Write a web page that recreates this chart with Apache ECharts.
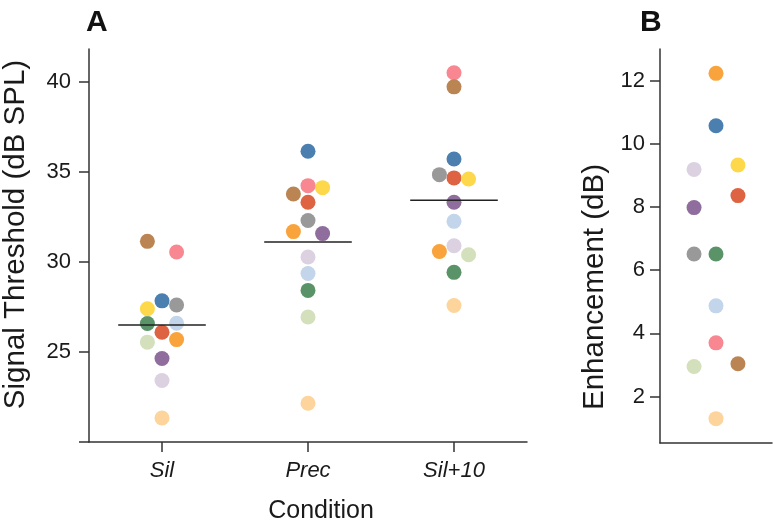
<!DOCTYPE html>
<html>
<head>
<meta charset="utf-8">
<script src="https://cdn.jsdelivr.net/npm/echarts@6/dist/echarts.min.js"></script>
<style>html,body{margin:0;padding:0;background:#fff;}#c{width:773px;height:526px;}</style>
</head>
<body>
<div id="c"></div>
<script>
// Subjects (colour per listener)
const subjectColors = ['#4a7fb0','#f9a33c','#dd6342','#5a9367','#fcd84a','#8f6d9c','#f88791','#bb8553','#999999','#c3d5ea','#d3e0bb','#dcd1e1','#fdd49b'];
// Panel A conditions
const conditions = ['Sil','Prec','Sil+10'];
const silValues    = [27.83,25.68,26.09,26.57,27.39,24.63,30.54,31.13,27.60,26.59,25.54,23.41,21.33];
const precValues   = [36.13,31.67,33.30,28.41,34.11,31.56,34.22,33.76,32.29,29.35,26.93,30.26,22.15];
const sil10Values  = [35.70,30.57,34.65,29.41,34.59,33.30,40.48,39.70,34.83,32.24,30.39,30.89,27.57];
// beeswarm column (jitter slot) of each dot
const silSlots   = [0, 1, 0,-1,-1, 0, 1,-1, 1, 1,-1, 0, 0];
const precSlots  = [0,-1, 0, 0, 1, 1, 0,-1, 0, 0, 0, 0, 0];
const sil10Slots = [0,-1, 0, 0, 1, 0, 0, 0,-1, 0, 1, 0, 0];
// Panel B enhancement
const enhValues = [10.57,12.23,8.36,6.51,9.33,7.98,3.70,3.04,6.51,4.87,2.95,9.19,1.30];
const enhSlots  = [0, 0, 1, 0, 1,-1, 0, 1,-1, 0,-1,-1, 0];
// Tick labels
const yTicksA = [25,30,35,40];
const yTicksB = [2,4,6,8,10,12];

const FONT = 'Liberation Sans';
const TXT = '#1a1a1a';
const AX = '#333';
const slotStep = 0.1;
const meanHalf = 0.3;

const condValues = [silValues, precValues, sil10Values];
const condSlots = [silSlots, precSlots, sil10Slots];

const scatterA = [];
condValues.forEach((vals, ci) => {
  vals.forEach((v, si) => {
    scatterA.push({ value: [ci + 1 + condSlots[ci][si] * slotStep, v], itemStyle: { color: subjectColors[si], opacity: 1 } });
  });
});
const scatterB = enhValues.map((v, si) => ({ value: [enhSlots[si], v], itemStyle: { color: subjectColors[si], opacity: 1 } }));

const meanSeries = condValues.map((vals, ci) => {
  const m = vals.reduce((a, b) => a + b, 0) / vals.length;
  return {
    type: 'line', xAxisIndex: 0, yAxisIndex: 0, symbol: 'none', silent: true, z: 5,
    lineStyle: { color: '#222', width: 1.5 },
    data: [[ci + 1 - meanHalf, m], [ci + 1 + meanHalf, m]]
  };
});

const chart = echarts.init(document.getElementById('c'), null, { renderer: 'canvas' });
chart.setOption({
  animation: false,
  backgroundColor: '#fff',
  textStyle: { fontFamily: FONT },
  title: [
    { text: 'A', left: 81, top: 3, textStyle: { fontFamily: FONT, fontSize: 30, fontWeight: 'bold', color: '#111' } },
    { text: 'B', left: 635, top: 3, textStyle: { fontFamily: FONT, fontSize: 30, fontWeight: 'bold', color: '#111' } }
  ],
  grid: [
    { left: 89, top: 49, width: 438, height: 393, containLabel: false, outerBoundsMode: 'none' },
    { left: 660, top: 49, width: 112, height: 394, containLabel: false, outerBoundsMode: 'none' }
  ],
  xAxis: [
    {
      gridIndex: 0, type: 'value', min: 0.5, max: 3.5,
      name: 'Condition', nameLocation: 'middle', nameGap: 57,
      nameTextStyle: { fontFamily: FONT, fontSize: 25, color: TXT, padding: [0, 0, 0, 26] },
      axisLine: { show: true, onZero: false, lineStyle: { color: AX, width: 1.5 } },
      axisTick: { show: true, length: 10, customValues: [1, 2, 3], lineStyle: { color: AX, width: 1.5 } },
      axisLabel: { customValues: [1, 2, 3], formatter: v => conditions[Math.round(v) - 1] || '', fontFamily: FONT, fontSize: 22, fontStyle: 'italic', color: TXT, margin: 18 },
      splitLine: { show: false }
    },
    {
      gridIndex: 1, type: 'value', min: -2.55, max: 2.55,
      axisLine: { show: true, onZero: false, lineStyle: { color: AX, width: 1.5 } },
      axisTick: { show: false }, axisLabel: { show: false }, splitLine: { show: false }
    }
  ],
  yAxis: [
    {
      gridIndex: 0, type: 'value', min: 20, max: 41.8, interval: 5,
      name: 'Signal Threshold (dB SPL)', nameLocation: 'middle', nameGap: 58,
      nameTextStyle: { fontFamily: FONT, fontSize: 29.5, color: TXT, padding: [0, 0, 0, 22] },
      axisLine: { show: true, onZero: false, lineStyle: { color: AX, width: 1.5 } },
      axisTick: { show: true, length: 10, customValues: [20, 25, 30, 35, 40], lineStyle: { color: AX, width: 1.5 } },
      axisLabel: { customValues: yTicksA, fontFamily: FONT, fontSize: 22, color: TXT, margin: 18 },
      splitLine: { show: false }
    },
    {
      gridIndex: 1, type: 'value', min: 0.53, max: 13, interval: 2,
      name: 'Enhancement (dB)', nameLocation: 'middle', nameGap: 50,
      nameTextStyle: { fontFamily: FONT, fontSize: 29.5, color: TXT, padding: [0, 82, 0, 0] },
      axisLine: { show: true, onZero: false, lineStyle: { color: AX, width: 1.5 } },
      axisTick: { show: true, length: 10, customValues: yTicksB, lineStyle: { color: AX, width: 1.5 } },
      axisLabel: { customValues: yTicksB, fontFamily: FONT, fontSize: 22, color: TXT, margin: 15 },
      splitLine: { show: false }
    }
  ],
  series: [
    { type: 'scatter', xAxisIndex: 0, yAxisIndex: 0, symbolSize: 15, z: 3, data: scatterA },
    ...meanSeries,
    { type: 'scatter', xAxisIndex: 1, yAxisIndex: 1, symbolSize: 15, z: 3, data: scatterB }
  ]
});
</script>
</body>
</html>
